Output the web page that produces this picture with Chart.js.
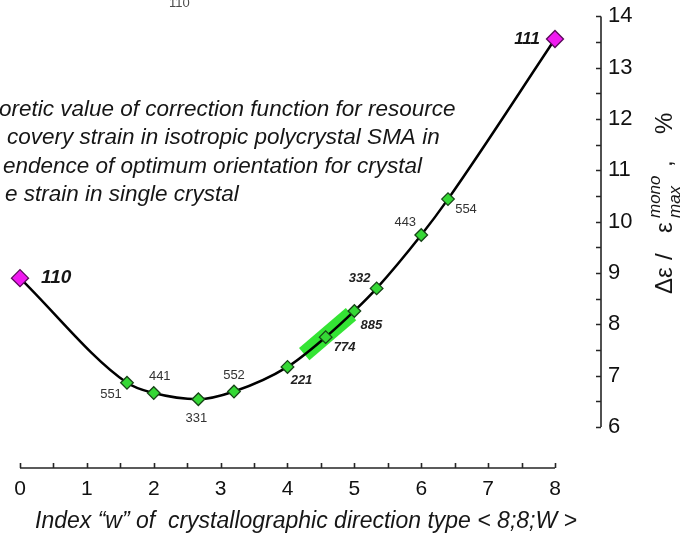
<!DOCTYPE html>
<html>
<head>
<meta charset="utf-8">
<script src="https://cdn.jsdelivr.net/npm/chart.js@4/dist/chart.umd.min.js"></script>
<style>
  html, body { margin: 0; padding: 0; background: #fff; }
  #wrap { width: 685px; height: 537px; position: relative; }
</style>
</head>
<body>
<div id="wrap"><canvas id="c" width="685" height="537"></canvas></div>
<script>
// Crystallographic directions <8;8;W> and the resource-recovery strain ratio, %
const directionLabels = ['110', '551', '441', '331', '552', '221', '774', '885', '332', '443', '554', '111'];
const indexW = [0, 1.6, 2, 2.667, 3.2, 4, 4.571, 5, 5.333, 6, 6.4, 8];
const strainRatio = [8.90, 6.86, 6.66, 6.54, 6.69, 7.17, 7.75, 8.26, 8.70, 9.74, 10.44, 13.56];

// Optimum-orientation band around <774>
const bandW = [4.25, 4.95];
const bandRatio = [7.42, 8.20];

// Axis ticks (labels on whole numbers only)
const xTickValues = [0, 0.5, 1, 1.5, 2, 2.5, 3, 3.5, 4, 4.5, 5, 5.5, 6, 6.5, 7, 7.5, 8];
const yTickValues = [6, 6.5, 7, 7.5, 8, 8.5, 9, 9.5, 10, 10.5, 11, 11.5, 12, 12.5, 13, 13.5, 14];

const FONT = '"Liberation Sans", Arial, sans-serif';

// Label placement for each direction index
const labelStyle = {
  '110': { dx: 21, dy: 0, align: 'left', font: 'italic bold 19px ' + FONT, color: '#151515' },
  '551': { dx: -16, dy: 12, align: 'center', font: '13px ' + FONT, color: '#333' },
  '441': { dx: 6, dy: -17, align: 'center', font: '13px ' + FONT, color: '#333' },
  '331': { dx: -2, dy: 19, align: 'center', font: '13px ' + FONT, color: '#333' },
  '552': { dx: 0, dy: -16, align: 'center', font: '13px ' + FONT, color: '#333' },
  '221': { dx: 14, dy: 14, align: 'center', font: 'italic bold 13px ' + FONT, color: '#222' },
  '774': { dx: 19, dy: 10, align: 'center', font: 'italic bold 13px ' + FONT, color: '#222' },
  '885': { dx: 17, dy: 14, align: 'center', font: 'italic bold 13px ' + FONT, color: '#222' },
  '332': { dx: -17, dy: -10, align: 'center', font: 'italic bold 13px ' + FONT, color: '#222' },
  '443': { dx: -16, dy: -13, align: 'center', font: '13px ' + FONT, color: '#333' },
  '554': { dx: 18, dy: 10, align: 'center', font: '13px ' + FONT, color: '#333' },
  '111': { dx: -15, dy: 0, align: 'right', font: 'italic bold 17px ' + FONT, color: '#151515' }
};

const curvePoints = indexW.map((w, i) => ({ x: w, y: strainRatio[i] }));
const bandPoints = bandW.map((w, i) => ({ x: w, y: bandRatio[i] }));
const isEnd = i => i === 0 || i === indexW.length - 1;

// Axis lines with inward tick marks, limited to the labelled ranges
const axisPlugin = {
  id: 'axisLines',
  afterDraw(chart) {
    const { ctx, chartArea } = chart;
    const xs = chart.scales.x, ys = chart.scales.y;
    ctx.save();
    ctx.strokeStyle = '#262626';
    ctx.lineWidth = 1.6;
    const yb = chartArea.bottom;
    ctx.beginPath();
    ctx.moveTo(xs.getPixelForValue(xTickValues[0]), yb);
    ctx.lineTo(xs.getPixelForValue(xTickValues[xTickValues.length - 1]), yb);
    xTickValues.forEach(v => {
      const px = Math.round(xs.getPixelForValue(v)) + 0.5;
      ctx.moveTo(px, yb);
      ctx.lineTo(px, yb - 5);
    });
    ctx.stroke();
    const xr = chartArea.right;
    ctx.beginPath();
    ctx.moveTo(xr, ys.getPixelForValue(yTickValues[0]));
    ctx.lineTo(xr, ys.getPixelForValue(yTickValues[yTickValues.length - 1]));
    yTickValues.forEach(v => {
      const py = Math.round(ys.getPixelForValue(v)) + 0.5;
      ctx.moveTo(xr, py);
      ctx.lineTo(xr - 5, py);
    });
    ctx.stroke();
    ctx.restore();
  }
};

// Direction labels beside the markers, titles and the explanatory note
const textPlugin = {
  id: 'texts',
  afterDatasetsDraw(chart) {
    const { ctx } = chart;
    const meta = chart.getDatasetMeta(0);
    ctx.save();
    ctx.textBaseline = 'middle';
    meta.data.forEach((pt, i) => {
      const s = labelStyle[directionLabels[i]];
      ctx.font = s.font;
      ctx.fillStyle = s.color;
      ctx.textAlign = s.align;
      ctx.fillText(directionLabels[i], pt.x + s.dx, pt.y + s.dy);
    });
    ctx.restore();
  },
  afterDraw(chart) {
    const { ctx } = chart;
    ctx.save();
    ctx.fillStyle = '#161616';
    ctx.textBaseline = 'middle';

    // x-axis title
    ctx.font = 'italic 23px ' + FONT;
    ctx.textAlign = 'center';
    ctx.fillText('Index \u201cw\u201d of  crystallographic direction type < 8;8;W >', 306, 522);

    // explanatory note (its left part runs off the edge)
    ctx.textAlign = 'left';
    ctx.font = 'italic 22.5px ' + FONT;
    const note = [
      ['oretic value of correction function for resource', -1, 110],
      ['covery strain in isotropic polycrystal SMA in', 7, 138],
      ['endence of optimum orientation for crystal', 3, 167],
      ['e strain in single crystal', 5, 195]
    ];
    note.forEach(([txt, x, y]) => ctx.fillText(txt, x, y));

    // fragment of the caption above
    ctx.font = '13px ' + FONT;
    ctx.fillStyle = '#4a4a4a';
    ctx.textBaseline = 'alphabetic';
    ctx.fillText('110', 169, 7);

    // rotated y-axis title: Δε / ε_max^mono , %
    ctx.fillStyle = '#161616';
    ctx.translate(672, 294);
    ctx.rotate(-Math.PI / 2);
    ctx.textBaseline = 'alphabetic';
    ctx.textAlign = 'left';
    ctx.font = '24px ' + FONT;
    ctx.fillText('\u0394\u03b5', 0, 0);
    ctx.fillText('/', 34, 0);
    ctx.fillText('\u03b5', 61, 0);
    ctx.font = 'italic 17px ' + FONT;
    ctx.fillText('mono', 76, -12);
    ctx.fillText('max', 76, 8);
    ctx.font = '24px ' + FONT;
    ctx.fillText(',', 127, 0);
    ctx.fillText('%', 160, 0);
    ctx.restore();
  }
};

new Chart(document.getElementById('c'), {
  type: 'scatter',
  data: {
    datasets: [
      {
        label: 'correction function',
        data: curvePoints,
        showLine: true,
        borderColor: '#000',
        borderWidth: 2.5,
        cubicInterpolationMode: 'monotone',
        pointStyle: 'rectRot',
        pointRadius: c => isEnd(c.dataIndex) ? 8.5 : 6.3,
        pointBackgroundColor: c => isEnd(c.dataIndex) ? '#f019f0' : '#35d835',
        pointBorderColor: c => isEnd(c.dataIndex) ? '#5a0a5a' : '#174417',
        pointBorderWidth: 1.3,
        order: 1
      },
      {
        label: 'optimum band',
        data: bandPoints,
        showLine: true,
        borderColor: 'rgba(30,225,30,0.9)',
        borderWidth: 16,
        borderCapStyle: 'butt',
        pointRadius: 0,
        order: 2
      }
    ]
  },
  options: {
    responsive: false,
    animation: false,
    layout: { padding: 0, autoPadding: false },
    plugins: { legend: { display: false }, tooltip: { enabled: false } },
    scales: {
      x: {
        type: 'linear',
        min: -0.299,
        max: 8.688,
        grid: { display: false, drawTicks: false },
        border: { display: false },
        afterBuildTicks: s => { s.ticks = xTickValues.map(v => ({ value: v })); },
        afterFit: s => { s.height = 69; s.paddingLeft = 0; s.paddingRight = 0; },
        ticks: {
          autoSkip: false,
          maxRotation: 0,
          padding: 9,
          color: '#111',
          font: { family: FONT, size: 21 },
          callback: v => Number.isInteger(v) ? String(v) : ''
        }
      },
      y: {
        type: 'linear',
        position: 'right',
        min: 5.2,
        max: 14.32,
        grid: { display: false, drawTicks: false },
        border: { display: false },
        afterBuildTicks: s => { s.ticks = yTickValues.map(v => ({ value: v })); },
        afterFit: s => { s.width = 84; s.paddingTop = 0; s.paddingBottom = 0; },
        ticks: {
          autoSkip: false,
          padding: 7,
          color: '#111',
          font: { family: FONT, size: 22 },
          callback: v => Number.isInteger(v) ? String(v) : ''
        }
      }
    }
  },
  plugins: [axisPlugin, textPlugin]
});
</script>
</body>
</html>
